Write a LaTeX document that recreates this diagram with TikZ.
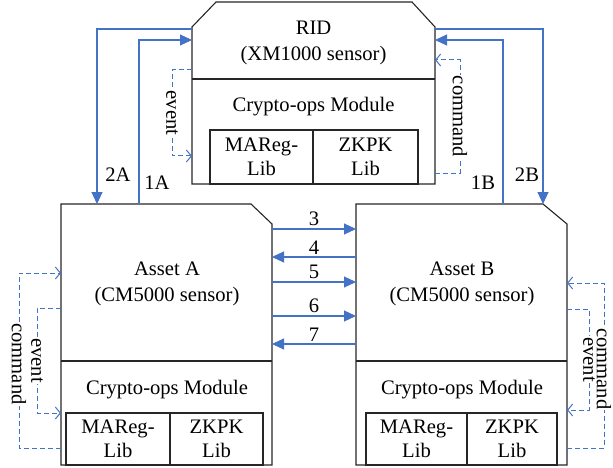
\documentclass[tikz,border=0pt]{standalone}
\usepackage{fontspec}
\setmainfont{Liberation Serif}
\usetikzlibrary{arrows.meta,calc}
\definecolor{lnblue}{HTML}{4472C4}
\begin{document}
\begin{tikzpicture}[x=1pt,y=-1pt,
  every node/.style={font=\fontsize{20.6}{26}\selectfont, inner sep=0pt, outer sep=0pt},
  frame/.style={draw=none, rectangle, inner sep=0pt, outer sep=0pt},
  outline/.style={draw=black!85, line width=1.1pt, line join=miter},
  libbox/.style={draw=black!85, line width=1.1pt, rectangle, align=center, font=\fontsize{20.6}{24}\selectfont},
  title/.style={align=center},
  flow/.style={draw=lnblue, line width=1.1pt, -{Triangle[length=12pt,width=11pt]}},
  ctl/.style={draw=lnblue, line width=1pt, dash pattern=on 5pt off 3pt, -{Straight Barb[length=5pt,width=12pt]}},
  lbl/.style={fill=white, inner sep=1pt, rotate=-90}]
\useasboundingbox (0,0) rectangle (613,468);

% frames
\node[frame, minimum width=243pt, minimum height=182pt] (rid) at (313.5,93) {};
\node[frame, minimum width=211pt, minimum height=261pt] (A) at (166.5,334.5) {};
\node[frame, minimum width=211pt, minimum height=261pt] (B) at (461.5,334.5) {};

% outlines
\draw[outline] ([yshift=-25pt]rid.north west) -- ([xshift=24pt]rid.north west) -- ([xshift=-23pt]rid.north east) -- ([yshift=-25pt]rid.north east) -- (rid.south east) -- (rid.south west) -- cycle;
\draw[outline] ([yshift=-77pt]rid.north west) -- ([yshift=-77pt]rid.north east);
\draw[outline] (A.north west) -- ([xshift=-21pt]A.north east) -- ([yshift=-20pt]A.north east) -- (A.south east) -- (A.south west) -- cycle;
\draw[outline] ([yshift=-157pt]A.north west) -- ([yshift=-157pt]A.north east);
\draw[outline] (B.north west) -- ([xshift=-24pt]B.north east) -- ([yshift=-20pt]B.north east) -- (B.south east) -- (B.south west) -- cycle;
\draw[outline] ([yshift=-157pt]B.north west) -- ([yshift=-157pt]B.north east);

% texts
\node[title] (ridtitle) at (313.5,43) {RID\\(XM1000 sensor)};
\node (ridmod) at (313.5,107) {Crypto-ops Module};
\node[libbox, minimum width=103pt, minimum height=54pt] (ridmareg) at (261.5,157) {MAReg-\\Lib};
\node[libbox, minimum width=105pt, minimum height=54pt] (ridzkpk) at (365.5,157) {ZKPK\\Lib};

\node[title] (Atitle) at (167,284) {Asset A\\(CM5000 sensor)};
\node (Amod) at (167,390) {Crypto-ops Module};
\node[libbox, minimum width=104pt, minimum height=52pt] (Amareg) at (118,439) {MAReg-\\Lib};
\node[libbox, minimum width=93pt, minimum height=52pt] (Azkpk) at (216.5,439) {ZKPK\\Lib};

\node[title] (Btitle) at (462,284) {Asset B\\(CM5000 sensor)};
\node (Bmod) at (462,390) {Crypto-ops Module};
\node[libbox, minimum width=101pt, minimum height=52pt] (Bmareg) at (416.5,439) {MAReg-\\Lib};
\node[libbox, minimum width=90pt, minimum height=52pt] (Bzkpk) at (512,439) {ZKPK\\Lib};

% RID <-> assets
\draw[flow] ([yshift=-27pt]rid.north west) -| ([xshift=36pt]A.north west);
\draw[flow] ([xshift=78pt]A.north west) |- ([yshift=-38pt]rid.north west);
\draw[flow] ([xshift=-64pt]B.north east) |- ([yshift=-38pt]rid.north east);
\draw[flow] ([yshift=-27pt]rid.north east) -| ([xshift=-24pt]B.north east);
\node (l2A) at (118,175) {2A};
\node (l1A) at (157,183) {1A};
\node (l1B) at (483,183) {1B};
\node (l2B) at (527,175) {2B};

% asset <-> asset
\draw[flow] ([yshift=-25pt]A.north east) -- ([yshift=-25pt]B.north west) node[midway, above=3pt] (m3) {3};
\draw[flow] ([yshift=-53pt]B.north west) -- ([yshift=-53pt]A.north east) node[midway, above=3pt] (m4) {4};
\draw[flow] ([yshift=-78pt]A.north east) -- ([yshift=-78pt]B.north west) node[midway, above=3pt] (m5) {5};
\draw[flow] ([yshift=-112pt]A.north east) -- ([yshift=-112pt]B.north west) node[midway, above=3pt] (m6) {6};
\draw[flow] ([yshift=-140pt]B.north west) -- ([yshift=-140pt]A.north east) node[midway, above=3pt] (m7) {7};

% internal event / command loops
\draw[ctl] ([yshift=-68pt]rid.north west) -- ++(-20,0) -- ++(0,86) node[midway, lbl] (ridev) {event} -- ([yshift=-154pt]rid.north west);
\draw[ctl] ([yshift=-171pt]rid.north east) -- ++(25,0) -- ++(0,-113) node[midway, lbl] (ridcmd) {command} -- ([yshift=-58pt]rid.north east);

\draw[ctl] ([yshift=-244pt]A.north west) -- ++(-42,0) -- ++(0,-175) node[pos=0.48, lbl] (Acmd) {command} -- ([yshift=-69pt]A.north west);
\draw[ctl] ([yshift=-104pt]A.north west) -- ++(-24,0) -- ++(0,105) node[midway, lbl] (Aev) {event} -- ([yshift=-209pt]A.north west);

\draw[ctl] ([yshift=-244pt]B.north east) -- ++(37,0) -- ++(0,-165) node[pos=0.48, lbl] (Bcmd) {command} -- ([yshift=-79pt]B.north east);
\draw[ctl] ([yshift=-105pt]B.north east) -- ++(22,0) -- ++(0,101) node[midway, lbl] (Bev) {event} -- ([yshift=-206pt]B.north east);
\end{tikzpicture}
\end{document}
